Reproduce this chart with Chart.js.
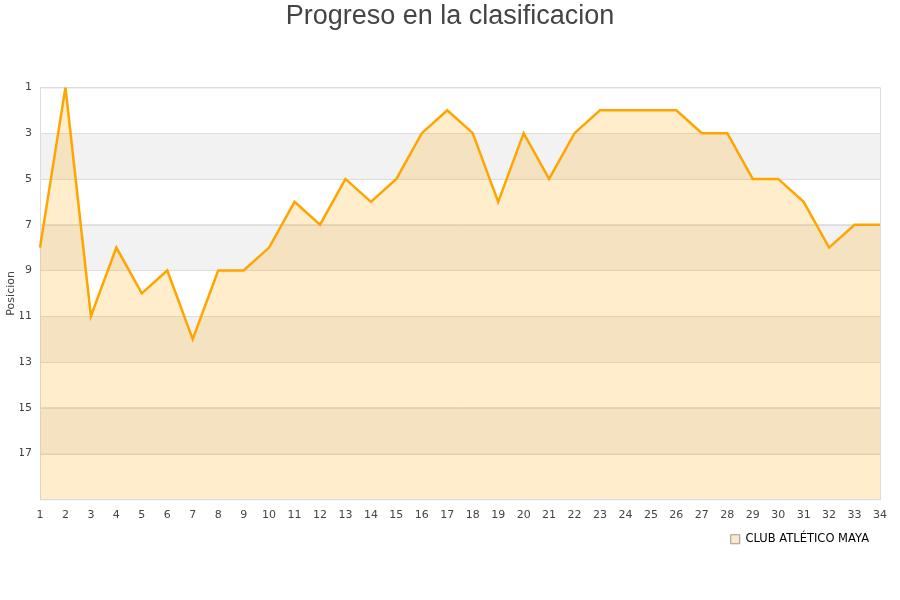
<!DOCTYPE html>
<html>
<head>
<meta charset="utf-8">
<script src="https://cdn.jsdelivr.net/npm/chart.js@4"></script>
<style>
  html, body { margin: 0; padding: 0; background: #fff; }
  #wrap { width: 900px; height: 600px; }
</style>
</head>
<body>
<div id="wrap"><canvas id="chart" width="900" height="600"></canvas></div>
<script>
const jornadas = [1, 2, 3, 4, 5, 6, 7, 8, 9, 10, 11, 12, 13, 14, 15, 16, 17,
  18, 19, 20, 21, 22, 23, 24, 25, 26, 27, 28, 29, 30, 31, 32, 33, 34];
const posiciones = [8, 1, 11, 8, 10, 9, 12, 9, 9, 8, 6, 7, 5, 6, 5, 3, 2,
  3, 6, 3, 5, 3, 2, 2, 2, 2, 3, 3, 5, 5, 6, 8, 7, 7];
const yTicks = [1, 3, 5, 7, 9, 11, 13, 15, 17];
const teamName = 'CLUB ATLÉTICO MAYA';

// grey stripes every other band (3-5, 7-9, ...)
const bandsPlugin = {
  id: 'bands',
  beforeDatasetsDraw(chart) {
    const { ctx, chartArea, scales } = chart;
    ctx.save();
    ctx.fillStyle = '#f2f2f2';
    for (let v = 3; v < 19; v += 4) {
      const top = scales.y.getPixelForValue(v);
      const bottom = scales.y.getPixelForValue(v + 2);
      ctx.fillRect(chartArea.left, top, chartArea.right - chartArea.left, bottom - top);
    }
    // redraw grid lines on top of the stripes
    ctx.strokeStyle = '#dddddd';
    ctx.lineWidth = 1;
    yTicks.forEach(v => {
      const y = Math.round(scales.y.getPixelForValue(v)) + 0.5;
      ctx.beginPath();
      ctx.moveTo(chartArea.left, y);
      ctx.lineTo(chartArea.right, y);
      ctx.stroke();
    });
    ctx.strokeRect(chartArea.left + 0.5, chartArea.top + 0.5,
      chartArea.right - chartArea.left, chartArea.bottom - chartArea.top);
    ctx.restore();
  }
};

new Chart(document.getElementById('chart'), {
  type: 'line',
  data: {
    labels: jornadas,
    datasets: [{
      label: teamName,
      data: posiciones,
      borderColor: '#ffa500',
      borderWidth: 2.5,
      backgroundColor: 'rgba(255,165,0,0.2)',
      fill: 'start',
      pointRadius: 0,
      tension: 0
    }]
  },
  options: {
    responsive: false,
    animation: false,
    layout: { padding: { left: 20, right: 20, top: 0, bottom: 45 } },
    plugins: {
      title: {
        display: true,
        text: 'Progreso en la clasificacion',
        color: '#444',
        font: { family: 'Liberation Sans', size: 27, weight: 'normal' },
        padding: { top: 0, bottom: 55 }
      },
      legend: {
        position: 'bottom',
        align: 'end',
        labels: {
          color: '#000',
          font: { family: 'DejaVu Sans', size: 11.5 },
          boxWidth: 9,
          boxHeight: 9,
          padding: 11,
          generateLabels: chart => [{
            text: teamName,
            fillStyle: '#fde9c6',
            strokeStyle: '#999',
            lineWidth: 1,
            datasetIndex: 0
          }]
        }
      },
      tooltip: { enabled: false }
    },
    scales: {
      x: {
        offset: false,
        grid: { display: false },
        border: { color: '#dddddd' },
        ticks: {
          color: '#444',
          font: { family: 'DejaVu Sans', size: 11 },
          maxRotation: 0,
          autoSkip: false,
          padding: 1
        }
      },
      y: {
        reverse: true,
        min: 1,
        max: 19,
        grid: { color: '#dddddd', drawTicks: false },
        border: { color: '#dddddd' },
        afterBuildTicks: axis => { axis.ticks = yTicks.map(v => ({ value: v })); },
        afterFit: axis => { axis.width = 20; },
        ticks: {
          color: '#444',
          font: { family: 'DejaVu Sans', size: 11 },
          padding: 8
        },
        title: {
          display: true,
          text: 'Posicion',
          color: '#444',
          font: { family: 'DejaVu Sans', size: 11 },
          padding: { top: -15, bottom: 0 }
        }
      }
    }
  },
  plugins: [bandsPlugin]
});
</script>
</body>
</html>
